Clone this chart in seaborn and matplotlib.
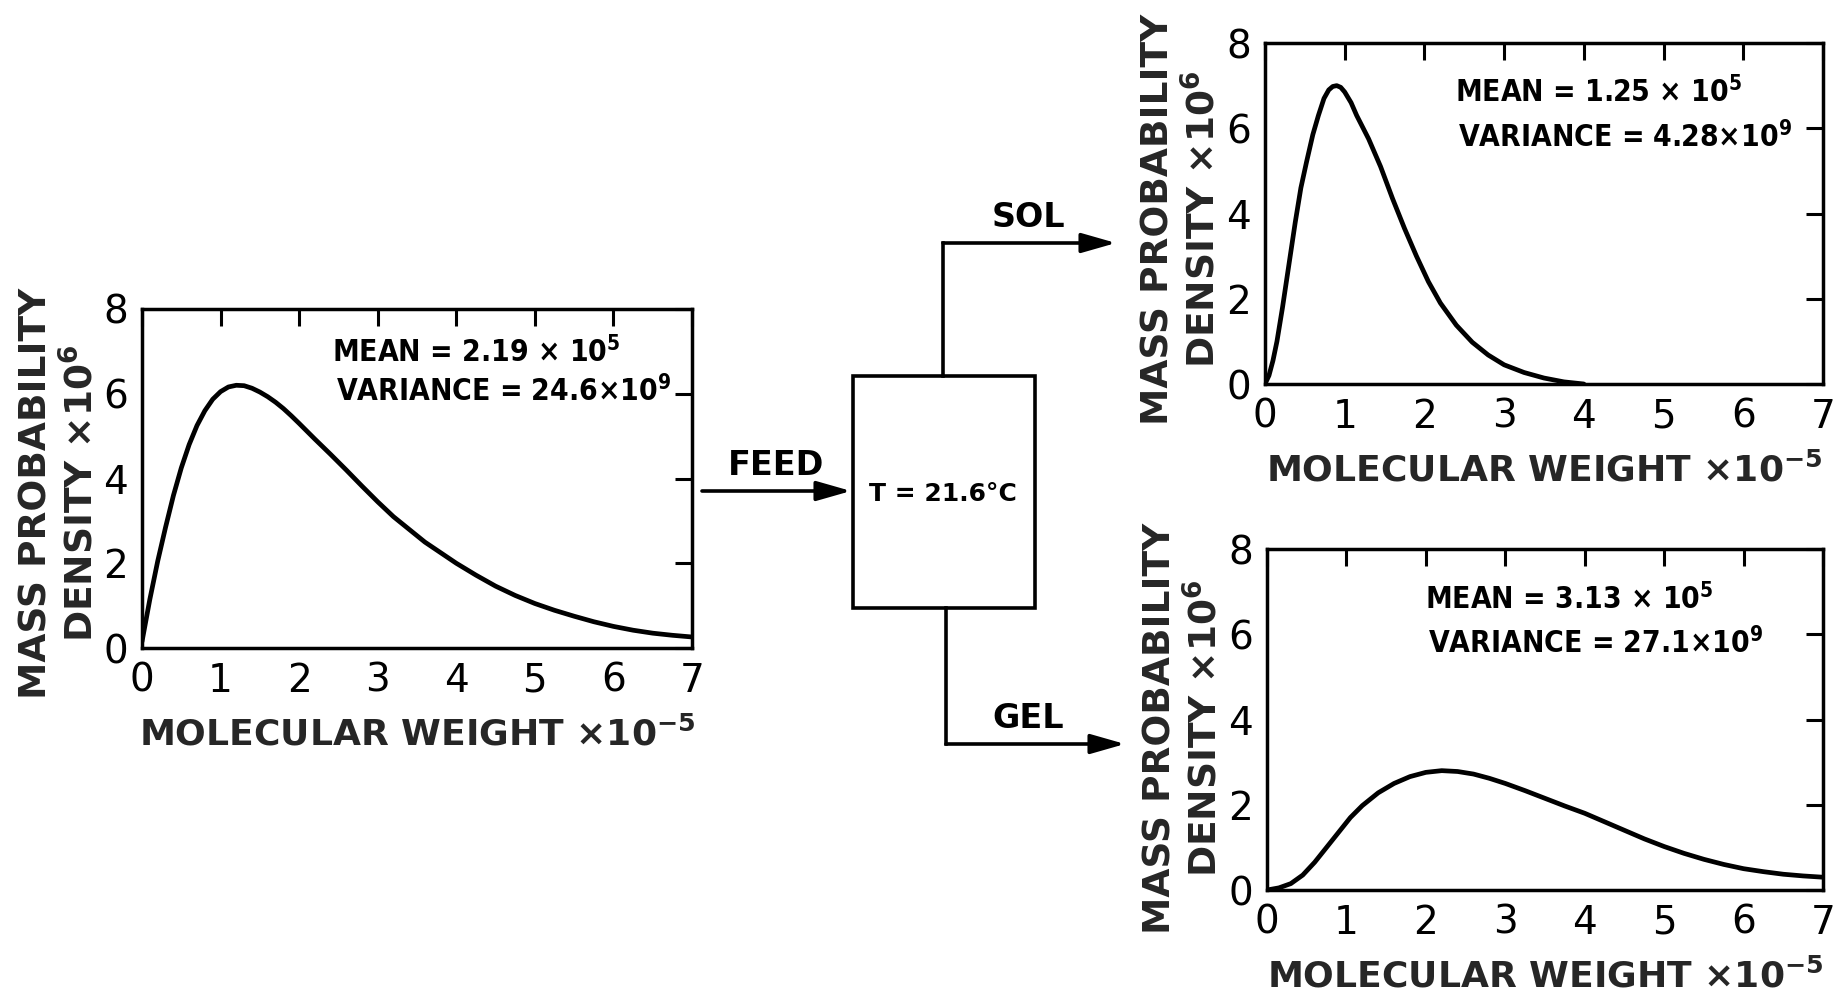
import matplotlib
matplotlib.use("Agg")
import matplotlib.pyplot as plt
import seaborn as sns
from matplotlib.patches import Rectangle

# ---------------- data ----------------
feed_mw = [0, 0.05, 0.1, 0.15, 0.2, 0.25, 0.3, 0.4, 0.5, 0.6, 0.7, 0.8, 0.9, 1.0, 1.1,
           1.2, 1.3, 1.4, 1.5, 1.6, 1.7, 1.8, 1.9, 2.0, 2.2, 2.4, 2.6, 2.8, 3.0, 3.2,
           3.4, 3.6, 3.8, 4.0, 4.25, 4.5, 4.75, 5.0, 5.25, 5.5, 5.75, 6.0, 6.25, 6.5,
           6.75, 7.0]
feed_density = [0.15, 0.65, 1.15, 1.6, 2.05, 2.45, 2.85, 3.6, 4.25, 4.8, 5.25, 5.6, 5.87,
                6.05, 6.16, 6.2, 6.19, 6.13, 6.04, 5.93, 5.8, 5.65, 5.48, 5.3, 4.93, 4.57,
                4.2, 3.82, 3.45, 3.1, 2.8, 2.5, 2.25, 2.0, 1.72, 1.46, 1.24, 1.05, 0.89,
                0.75, 0.62, 0.51, 0.42, 0.35, 0.3, 0.26]

sol_mw = [0, 0.05, 0.1, 0.15, 0.22, 0.3, 0.38, 0.45, 0.52, 0.6, 0.67, 0.74, 0.8, 0.85,
          0.9, 0.95, 1.0, 1.08, 1.15, 1.3, 1.45, 1.6, 1.75, 1.9, 2.05, 2.2, 2.4, 2.6,
          2.8, 3.0, 3.25, 3.5, 3.75, 4.0]
sol_density = [0, 0.2, 0.55, 1.0, 1.8, 2.8, 3.8, 4.6, 5.2, 5.85, 6.3, 6.7, 6.9, 6.98,
               7.0, 6.96, 6.85, 6.6, 6.3, 5.75, 5.1, 4.35, 3.65, 3.0, 2.4, 1.9, 1.38,
               0.98, 0.68, 0.45, 0.27, 0.14, 0.05, 0.0]

gel_mw = [0, 0.15, 0.3, 0.45, 0.6, 0.75, 0.9, 1.05, 1.2, 1.4, 1.6, 1.8, 2.0, 2.2, 2.4, 2.6,
          2.8, 3.0, 3.25, 3.5, 3.75, 4.0, 4.25, 4.5, 4.75, 5.0, 5.25, 5.5, 5.75, 6.0, 6.25,
          6.5, 6.75, 7.0]
gel_density = [0, 0.05, 0.15, 0.35, 0.65, 1.0, 1.35, 1.7, 1.98, 2.28, 2.5, 2.66, 2.76, 2.8,
               2.78, 2.72, 2.62, 2.5, 2.33, 2.15, 1.97, 1.8, 1.6, 1.4, 1.2, 1.02, 0.86, 0.72,
               0.6, 0.5, 0.43, 0.37, 0.33, 0.3]

x_ticks = [0, 1, 2, 3, 4, 5, 6, 7]
y_ticks = [0, 2, 4, 6, 8]

feed_mean, feed_var = "2.19", "24.6"
sol_mean, sol_var = "1.25", "4.28"
gel_mean, gel_var = "3.13", "27.1"

x_label = "MOLECULAR WEIGHT ×10$^{-5}$"
y_label = "MASS PROBABILITY\nDENSITY ×10$^{6}$"
feed_text, sol_text, gel_text = "FEED", "SOL", "GEL"
temp_text = "T = 21.6°C"

# ---------------- style ----------------
sns.set_theme(style="white")
plt.rcParams["font.family"] = ["DejaVu Sans"]
plt.rcParams["mathtext.default"] = "regular"
plt.rcParams["text.color"] = "black"

W, H = 1842, 996
fig = plt.figure(figsize=(W / 100, H / 100), dpi=100)

overlay = fig.add_axes([0, 0, 1, 1])
overlay.set_xlim(0, W)
overlay.set_ylim(H, 0)
overlay.axis("off")


def px_axes(x0, y0, x1, y1):
    return fig.add_axes([x0 / W, 1 - y1 / H, (x1 - x0) / W, (y1 - y0) / H])


def style_axes(ax, ylab_x, ylab_y):
    ax.set_xlim(0, 7)
    ax.set_ylim(0, 8)
    ax.set_xticks(x_ticks)
    ax.set_yticks(y_ticks)
    ax.tick_params(direction="in", length=12, width=2.2, top=True, right=True,
                   labeltop=False, labelright=False, labelsize=28, pad=10,
                   colors="black")
    for s in ax.spines.values():
        s.set_visible(True)
        s.set_linewidth(2.5)
        s.set_color("black")
    ax.set_xlabel(x_label, fontsize=26, fontweight="bold", labelpad=12)
    ax.set_ylabel(y_label, fontsize=27, fontweight="bold", linespacing=1.25)
    ax.yaxis.set_label_coords(ylab_x, ylab_y)
    ax.yaxis.label.set_verticalalignment("center")


def stats(ax, mean, var, mx, my, vx, vy):
    kw = dict(transform=ax.transAxes, fontsize=21.5, fontweight="bold",
              fontstretch="condensed", ha="left", va="center")
    ax.text(mx, my, f"MEAN = {mean} × 10$^{{5}}$", **kw)
    ax.text(vx, vy, f"VARIANCE = {var}×10$^{{9}}$", **kw)


ax_feed = px_axes(142, 309, 692, 648)
ax_sol = px_axes(1265, 43, 1823, 384)
ax_gel = px_axes(1267, 549, 1823, 890)

sns.lineplot(x=feed_mw, y=feed_density, ax=ax_feed, color="black", linewidth=3.4)
sns.lineplot(x=sol_mw, y=sol_density, ax=ax_sol, color="black", linewidth=3.4)
sns.lineplot(x=gel_mw, y=gel_density, ax=ax_gel, color="black", linewidth=3.4)

style_axes(ax_feed, -0.15, 0.457)
style_axes(ax_sol, -0.149, 0.484)
style_axes(ax_gel, -0.149, 0.475)

stats(ax_feed, feed_mean, feed_var, 0.346, 0.873, 0.352, 0.758)
stats(ax_sol, sol_mean, sol_var, 0.34, 0.856, 0.345, 0.724)
stats(ax_gel, gel_mean, gel_var, 0.284, 0.853, 0.29, 0.724)

# ---------------- flow diagram ----------------
lw = 2.6
overlay.add_patch(Rectangle((853, 376), 182, 232, fill=False, lw=lw, ec="black"))
arrow_kw = dict(arrowstyle="-|>,head_length=1.05,head_width=0.3", lw=lw, color="black",
                shrinkA=0, shrinkB=0, mutation_scale=20)
overlay.annotate("", xy=(851, 491), xytext=(702, 491), arrowprops=arrow_kw)
overlay.plot([943, 943], [376, 243], color="black", lw=lw, solid_capstyle="projecting")
overlay.annotate("", xy=(1116, 243), xytext=(943, 243), arrowprops=arrow_kw)
overlay.plot([946, 946], [608, 744], color="black", lw=lw, solid_capstyle="projecting")
overlay.annotate("", xy=(1125, 744), xytext=(946, 744), arrowprops=arrow_kw)

overlay.text(776, 465, feed_text, ha="center", va="center", fontsize=24, fontweight="bold")
overlay.text(1028, 217, sol_text, ha="center", va="center", fontsize=24, fontweight="bold")
overlay.text(1028, 718, gel_text, ha="center", va="center", fontsize=24, fontweight="bold")
overlay.text(943, 494, temp_text, ha="center", va="center", fontsize=18, fontweight="bold")

fig.savefig("out.png", dpi=100)
